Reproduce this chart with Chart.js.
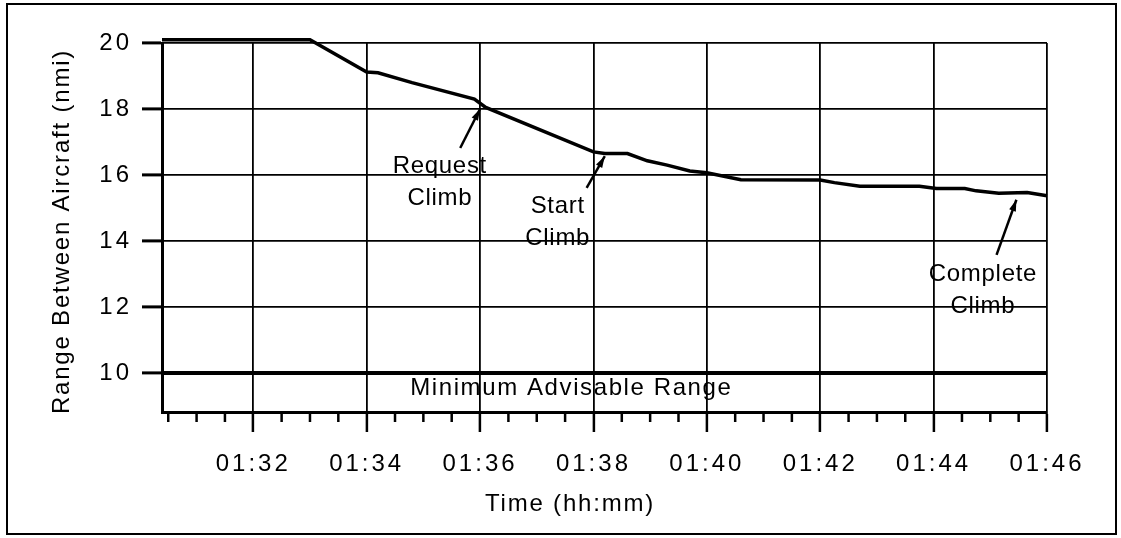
<!DOCTYPE html>
<html>
<head>
<meta charset="utf-8">
<script src="https://cdn.jsdelivr.net/npm/chart.js@4.4.1/dist/chart.umd.min.js"></script>
<style>
  html, body { margin: 0; padding: 0; background: #fff; }
  #wrap { width: 1121px; height: 538px; position: relative; }
</style>
</head>
<body>
<div id="wrap"><canvas id="chart"></canvas></div>
<script>
// time is in minutes after 01:00
const times  = [90.39, 93.0, 94.0, 94.2, 94.8, 95.9, 96.1, 98.0, 98.2, 98.6, 98.95, 99.3, 99.7, 100.0,
                100.6, 102.0, 102.25, 102.7, 103.75, 104.05, 104.55, 104.75, 105.15, 105.65, 106.0];
const ranges = [20.1, 20.1, 19.12, 19.1, 18.8, 18.3, 18.05, 16.7, 16.65, 16.65, 16.43, 16.3, 16.12, 16.07,
                15.86, 15.85, 15.77, 15.66, 15.66, 15.59, 15.59, 15.52, 15.45, 15.47, 15.37];

const minRangeTimes  = [90.39, 106];
const minRangeValues = [10, 10];

const xTicks      = [92, 94, 96, 98, 100, 102, 104, 106];
const xTickLabels = ['01:32', '01:34', '01:36', '01:38', '01:40', '01:42', '01:44', '01:46'];
const yTicks      = [10, 12, 14, 16, 18, 20];
const yTickLabels = ['10', '12', '14', '16', '18', '20'];

const xTitle = 'Time (hh:mm)';
const yTitle = 'Range Between Aircraft (nmi)';

// callouts: text lines, arrow tip, arrow tail, text centre (data units)
const noteText = [['Request', 'Climb'], ['Start', 'Climb'], ['Complete', 'Climb']];
const noteTip  = [[96.0, 18.0], [98.2, 16.57], [105.46, 15.25]];
const noteTail = [[95.65, 16.82], [97.88, 15.61], [105.11, 13.58]];
const noteAt   = [[95.29, 16.26], [97.37, 15.05], [104.87, 12.98]];
const minRangeLabel = 'Minimum Advisable Range';
const minRangeLabelAt = [97.61, 9.54];

const FONT = "'Liberation Sans', Arial, sans-serif";

const frameAndNotes = {
    id: 'frameAndNotes',
    beforeDraw(chart) {
        const ctx = chart.ctx;
        ctx.save();
        ctx.strokeStyle = '#000';
        ctx.lineWidth = 2;
        ctx.strokeRect(7, 4, 1109, 530);
        ctx.restore();
        // tick labels are drawn a bit letter-spaced
        ctx.letterSpacing = '3px';
    },
    afterDraw(chart) {
        const ctx = chart.ctx;
        const xs = chart.scales.x, ys = chart.scales.y;
        const area = chart.chartArea;
        ctx.save();
        ctx.fillStyle = '#000';
        ctx.strokeStyle = '#000';
        ctx.textAlign = 'center';

        // minor ticks on the time axis, every half minute
        ctx.lineWidth = 2.5;
        for (let v = Math.ceil(xs.min * 2) / 2; v <= xs.max; v += 0.5) {
            if (v % 2 === 0) continue;
            const px = xs.getPixelForValue(v);
            ctx.beginPath();
            ctx.moveTo(px, area.bottom);
            ctx.lineTo(px, area.bottom + 10);
            ctx.stroke();
        }

        // axis titles
        ctx.font = '24px ' + FONT;
        ctx.letterSpacing = '1.8px';
        ctx.textBaseline = 'alphabetic';
        ctx.fillText(xTitle, 570, 511);
        ctx.save();
        ctx.translate(62, (area.top + area.bottom) / 2 + 4);
        ctx.rotate(-Math.PI / 2);
        ctx.textBaseline = 'middle';
        ctx.fillText(yTitle, 0, 0);
        ctx.restore();

        // callouts
        ctx.textBaseline = 'middle';
        ctx.letterSpacing = '0.7px';
        for (let i = 0; i < noteText.length; i++) {
            const tx = xs.getPixelForValue(noteTip[i][0]), ty = ys.getPixelForValue(noteTip[i][1]);
            const sx = xs.getPixelForValue(noteTail[i][0]), sy = ys.getPixelForValue(noteTail[i][1]);
            ctx.lineWidth = 2.5;
            ctx.beginPath();
            ctx.moveTo(sx, sy);
            ctx.lineTo(tx, ty);
            ctx.stroke();
            const a = Math.atan2(ty - sy, tx - sx);
            ctx.beginPath();
            ctx.moveTo(tx, ty);
            ctx.lineTo(tx - 12 * Math.cos(a - 0.3), ty - 12 * Math.sin(a - 0.3));
            ctx.lineTo(tx - 12 * Math.cos(a + 0.3), ty - 12 * Math.sin(a + 0.3));
            ctx.closePath();
            ctx.fill();

            const cx = xs.getPixelForValue(noteAt[i][0]), cy = ys.getPixelForValue(noteAt[i][1]);
            noteText[i].forEach((line, j) => ctx.fillText(line, cx, cy + j * 32));
        }

        ctx.letterSpacing = '1.6px';
        ctx.fillText(minRangeLabel, xs.getPixelForValue(minRangeLabelAt[0]), ys.getPixelForValue(minRangeLabelAt[1]));
        ctx.restore();
    }
};

new Chart(document.getElementById('chart'), {
    type: 'line',
    data: {
        datasets: [{
            data: times.map((t, i) => ({ x: t, y: ranges[i] })),
            borderColor: '#000',
            borderWidth: 3.5,
            pointRadius: 0,
            tension: 0,
            clip: false
        }, {
            data: minRangeTimes.map((t, i) => ({ x: t, y: minRangeValues[i] })),
            borderColor: '#000',
            borderWidth: 4,
            pointRadius: 0
        }]
    },
    options: {
        responsive: true,
        maintainAspectRatio: false,
        animation: false,
        events: [],
        layout: { padding: { top: 43, right: 74, left: 0, bottom: 0 } },
        plugins: { legend: { display: false }, tooltip: { enabled: false } },
        scales: {
            x: {
                type: 'linear',
                min: 90.39,
                max: 106,
                afterBuildTicks: (scale) => { scale.ticks = xTicks.map(v => ({ value: v })); },
                afterFit: (scale) => { scale.height = 126; },
                ticks: {
                    color: '#000',
                    font: { family: FONT, size: 24 },
                    padding: 18,
                    maxRotation: 0,
                    callback: (v) => xTickLabels[xTicks.indexOf(v)]
                },
                grid: {
                    color: '#000',
                    lineWidth: 1.8,
                    borderDash: [1.8, 2.7],
                    tickBorderDash: [],
                    tickLength: 20,
                    tickWidth: 2.5,
                    tickColor: '#000'
                },
                border: { display: true, color: '#000', width: 3 }
            },
            y: {
                type: 'linear',
                min: 8.82,
                max: 20,
                afterBuildTicks: (scale) => { scale.ticks = yTicks.map(v => ({ value: v })); },
                afterFit: (scale) => { scale.width = 162; },
                ticks: {
                    color: '#000',
                    font: { family: FONT, size: 24 },
                    padding: 10,
                    callback: (v) => yTickLabels[yTicks.indexOf(v)]
                },
                grid: {
                    color: '#000',
                    lineWidth: 1.8,
                    borderDash: [1.8, 2.7],
                    tickBorderDash: [],
                    tickLength: 20,
                    tickWidth: 3,
                    tickColor: '#000'
                },
                border: { display: true, color: '#000', width: 3 }
            }
        }
    },
    plugins: [frameAndNotes]
});
</script>
</body>
</html>
